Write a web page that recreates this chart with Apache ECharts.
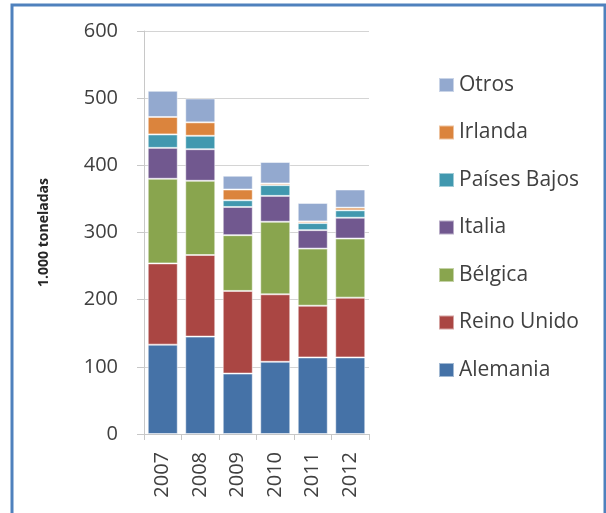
<!DOCTYPE html>
<html>
<head>
<meta charset="utf-8">
<script src="https://cdn.jsdelivr.net/npm/echarts@6/dist/echarts.min.js"></script>
<style>
  html, body { margin: 0; padding: 0; background: #fff; }
  #chart { width: 606px; height: 513px; }
</style>
</head>
<body>
<div id="chart"></div>
<script>
var years = ['2007', '2008', '2009', '2010', '2011', '2012'];

// 1.000 toneladas
var alemania    = [133, 145, 90, 107.5, 114, 114];
var reinoUnido  = [121, 121.5, 123, 100.5, 77, 89];
var belgica     = [126, 110.5, 83, 108, 85, 88];
var italia      = [46, 47, 42, 38.5, 27.5, 31];
var paisesBajos = [20, 20, 10, 16, 10.5, 11];
var irlanda     = [26, 20, 16, 2.5, 2.5, 4];
var otros       = [39, 35.5, 20.5, 32, 27.5, 27];

var yTicks = [0, 100, 200, 300, 400, 500, 600];

var myChart = echarts.init(document.getElementById('chart'));

function bar(name, data, color) {
    return {
        name: name,
        type: 'bar',
        stack: 'total',
        barCategoryGap: '20%',
        data: data,
        itemStyle: { color: color, borderColor: 'rgba(255,255,255,0.5)', borderWidth: 1 }
    };
}

var font = 'Open Sans';

myChart.setOption({
    animation: false,
    graphic: [{
        type: 'rect',
        shape: { x: 12, y: 5, width: 593, height: 520 },
        style: { fill: 'none', stroke: '#4F81BD', lineWidth: 3 }
    }],
    grid: { left: 144, top: 31, right: 237, bottom: 79 },
    legend: {
        orient: 'vertical',
        left: 433,
        top: 68,
        itemWidth: 15,
        itemHeight: 14,
        itemGap: 23.5,
        icon: 'rect',
        data: ['Otros', 'Irlanda', 'Países Bajos', 'Italia', 'Bélgica', 'Reino Unido', 'Alemania'],
        textStyle: { fontFamily: font, fontSize: 21, color: '#404040', lineHeight: 24 }
    },
    xAxis: {
        type: 'category',
        data: years,
        axisLine: { lineStyle: { color: '#c8c8c8' } },
        axisTick: { show: true, length: 6, lineStyle: { color: '#c8c8c8' } },
        axisLabel: { rotate: 90, margin: 18, fontFamily: font, fontSize: 20, color: '#404040' }
    },
    yAxis: {
        type: 'value',
        min: yTicks[0],
        max: yTicks[yTicks.length - 1],
        interval: 100,
        name: '1.000 toneladas',
        nameLocation: 'middle',
        nameGap: 93,
        nameTextStyle: { fontFamily: font, fontSize: 14, fontWeight: 'bold', color: '#262626' },
        axisLine: { show: true, lineStyle: { color: '#c8c8c8' } },
        axisTick: { show: true, length: 7, lineStyle: { color: '#c8c8c8' } },
        axisLabel: { margin: 26, fontFamily: font, fontSize: 20, color: '#404040' },
        splitLine: { lineStyle: { color: '#d4d4d4' } }
    },
    series: [
        bar('Alemania', alemania, '#4572A7'),
        bar('Reino Unido', reinoUnido, '#AA4643'),
        bar('Bélgica', belgica, '#89A54E'),
        bar('Italia', italia, '#71588F'),
        bar('Países Bajos', paisesBajos, '#4198AF'),
        bar('Irlanda', irlanda, '#DB843D'),
        bar('Otros', otros, '#93A9CF')
    ]
});
</script>
</body>
</html>
